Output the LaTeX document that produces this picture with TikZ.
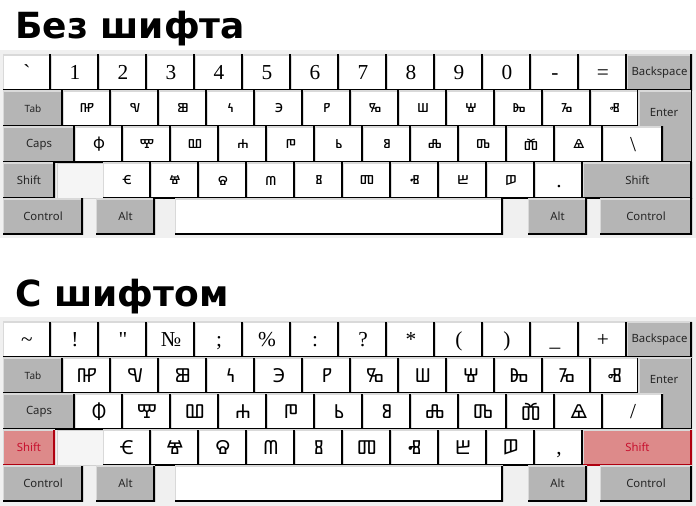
\documentclass[tikz,border=0pt]{standalone}
\usepackage{fontspec}
\usetikzlibrary{calc}
\newfontfamily\titlefont{DejaVu Sans}
\newfontfamily\uifont{Noto Sans}
\newfontfamily\keyfont{Liberation Serif}
\newfontfamily\glyfont{Noto Sans Glagolitic}
\definecolor{panelbg}{HTML}{F0F0F0}
\definecolor{keygray}{HTML}{B5B5B5}
\definecolor{shiftred}{HTML}{DD8A8A}
\definecolor{shifttext}{HTML}{C8102E}
\definecolor{shiftedge}{HTML}{B00010}
\def\keyedgecol{black}
\tikzset{
  edge color/.code={\def\keyedgecol{#1}},
  key/.style={inner sep=0pt, fill=white, minimum height=27pt, minimum width=36pt,
    path picture={
      \draw[white!85!black, line width=1.6pt] (path picture bounding box.south west) -- (path picture bounding box.north west) -- (path picture bounding box.north east);
      \draw[\keyedgecol, line width=2.4pt] (path picture bounding box.south west) -- (path picture bounding box.south east) -- (path picture bounding box.north east);}},
  wide/.style={minimum width=#1*0.75pt},
  digit/.style={font=\keyfont\fontsize{16}{16}\selectfont, text height=10.5pt, text depth=0pt},
  glyph/.style={font=\glyfont\fontsize{12.5}{12.5}\selectfont},
  gkey/.style={key, fill=keygray, font=\uifont\fontsize{8.5}{10}\selectfont, text=black!85},
  redkey/.style={gkey, fill=shiftred, text=shifttext, edge color=shiftedge},
  title/.style={anchor=base west, inner sep=0pt, font=\titlefont\bfseries\fontsize{27}{30}\selectfont}
}
\def\rowplain{{`},1,2,3,4,5,6,7,8,9,0,-,=}
\def\rowshift{{\char"7E},!,",№,;,\%,:,?,*,{(},{)},\_,+}
\def\rowq{2C3C,2C4C,2C46,2C3D,2C35,2C40,2C33,2C4E,2C4B,2C38,2C48,2C4F}
\def\rowa{2C47,2C39,2C32,2C30,2C42,2C43,2C41,2C3E,2C34,2C36,2C51}
\def\rowz{2C54,2C4D,2C44,2C3F,2C3B,2C45,2C50,2C31,2C53}
% #1 prefix, #2 case offset, #3 shift style, #4 top row, #5 backslash key, #6 slash key
\newcommand{\kbpanel}[6]{
  \foreach \lbl [count=\i from 0] in #4
    \node[key, wide=48, digit] (#1n\i) at ({27+48*\i},72.5) {\lbl};
  \node[gkey, wide=65] (#1bks) at (659.5,72.5) {Backspace};
  \node[gkey, wide=60, font=\uifont\fontsize{7.5}{9}\selectfont] (#1tab) at (33,108.5) {Tab};
  \foreach \c [count=\i from 0] in \rowq
    \node[key, wide=48, glyph] (#1q\i) at ({87+48*\i},108.5) {\char\numexpr"\c-"#2\relax};
  \fill[keygray] (639,90.5) -- (692,90.5) -- (692,162.5) -- (663,162.5) -- (663,126.5) -- (639,126.5) -- cycle;
  \draw[white!85!black, line width=1.2pt] (639,126.5) -- (639,91) -- (692,91);
  \draw[line width=1.2pt] (663,162) -- (691.5,162) -- (691.5,90.5);
  \node[font=\uifont\fontsize{8.5}{10}\selectfont, text=black!85] (#1ent) at (664,113) {Enter};
  \node[gkey, wide=72] (#1caps) at (39,144.5) {Caps};
  \foreach \c [count=\i from 0] in \rowa
    \node[key, wide=48, glyph] (#1a\i) at ({99+48*\i},144.5) {\char\numexpr"\c-"#2\relax};
  \node[key, wide=60, digit] (#1bsl) at (633,144.5) {#5};
  \node[#3, wide=52] (#1lsh) at (29,180.5) {Shift};
  \node[draw=white!82!black, fill=white!96!black, minimum width=34.5pt, minimum height=26.5pt] (#1blank) at (80,180.5) {};
  \foreach \c [count=\i from 0] in \rowz
    \node[key, wide=48, glyph] (#1z\i) at ({127+48*\i},180.5) {\char\numexpr"\c-"#2\relax};
  \node[key, wide=48, digit] (#1sl) at (559,180.5) {#6};
  \node[#3, wide=109] (#1rsh) at (637.5,180.5) {Shift};
  \node[gkey, wide=80] (#1lctl) at (43,216.5) {Control};
  \node[gkey, wide=59] (#1lalt) at (125.5,216.5) {Alt};
  \node[key, wide=328] (#1spc) at (339,216.5) {};
  \node[gkey, wide=59] (#1ralt) at (557.5,216.5) {Alt};
  \node[gkey, wide=92] (#1rctl) at (646,216.5) {Control};
}
\begin{document}
\begin{tikzpicture}[x=0.75pt,y=-0.75pt]
\useasboundingbox (0,0) rectangle (696,506);
\fill[panelbg] (0,50) rectangle (696,238);
\fill[panelbg] (0,317) rectangle (696,506);
\node[title] (t1) at (15,39) {Без шифта};
\node[title] (t2) at (15,306) {С шифтом};
\kbpanel{a}{0}{gkey}{\rowplain}{\textbackslash}{.}
\begin{scope}[shift={(0,267)}, glyph/.style={font=\glyfont\fontsize{14.5}{14.5}\selectfont}]
\kbpanel{b}{30}{redkey}{\rowshift}{/}{,}
\end{scope}
\end{tikzpicture}
\end{document}
